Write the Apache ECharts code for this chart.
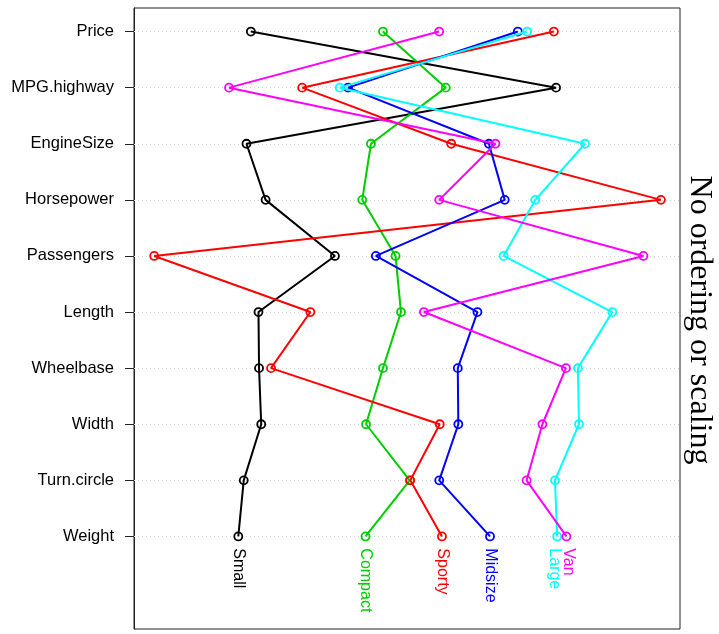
<!DOCTYPE html>
<html>
<head>
<meta charset="utf-8">
<script src="https://cdn.jsdelivr.net/npm/echarts@6/dist/echarts.min.js"></script>
<style>
  html, body { margin: 0; padding: 0; background: #fff; }
  #chart { width: 719px; height: 634px; }
</style>
</head>
<body>
<div id="chart"></div>
<script>
// Variables, top to bottom
const variables = ['Price', 'MPG.highway', 'EngineSize', 'Horsepower', 'Passengers',
                   'Length', 'Wheelbase', 'Width', 'Turn.circle', 'Weight'];
// Car types and their colours
const carTypes = ['Small', 'Compact', 'Sporty', 'Midsize', 'Large', 'Van'];
const typeColors = ['#000000', '#00cd00', '#ff0000', '#0000ff', '#00ffff', '#ff00ff'];

// Unscaled group profiles, one value per variable (same order as `variables`)
const small   = [21.4, 77.3, 20.6, 24.1, 36.8, 22.8, 22.9, 23.3, 20.1, 19.1];
const compact = [45.6, 57.1, 43.4, 41.8, 47.9, 48.9, 45.6, 42.5, 50.5, 42.4];
const sporty  = [76.9, 30.8, 58.1, 96.5,  3.7, 32.3, 25.1, 56.0, 50.6, 56.4];
const midsize = [70.3, 39.2, 65.0, 67.9, 44.3, 62.9, 59.3, 59.4, 55.9, 65.2];
const large   = [72.0, 37.7, 82.6, 73.5, 67.7, 87.6, 81.3, 81.5, 77.1, 77.5];
const van     = [55.9, 17.4, 66.2, 55.9, 93.3, 53.1, 79.1, 74.8, 71.9, 79.2];

const profiles = [small, compact, sporty, midsize, large, van];
const sideTitle = 'No ordering or scaling';

const rowIndex = variables.map((v, i) => i + 1);
const lastRow = variables.length;
const LABEL_GAP = 14; // minimum spacing (px) between the rotated type names

function buildSeries(labelShift) {
  const profileSeries = carTypes.map((name, k) => {
    const color = typeColors[k];
    const values = profiles[k];
    return {
      name: name,
      type: 'line',
      z: 2 + k,
      symbol: 'circle',
      symbolSize: 8,
      itemStyle: { color: 'rgba(0,0,0,0)', borderColor: color, borderWidth: 1.8 },
      lineStyle: { color: color, width: 2 },
      data: values.map((v, i) => {
        const item = { value: [v, i + 1] };
        if (i === values.length - 1) {
          item.label = {
            show: true,
            formatter: name,
            position: 'bottom',
            distance: 7,
            // offset is in the label's rotated frame: -y moves it right on screen
            offset: [0, -(labelShift[k] || 0)],
            rotate: -90,
            align: 'left',
            verticalAlign: 'middle',
            color: color,
            fontFamily: '"Liberation Sans", Arial, sans-serif',
            fontSize: 16
          };
        }
        return item;
      })
    };
  });

  // Faint dotted guide line at every variable row
  const guideSeries = {
    type: 'line',
    z: 1,
    data: [],
    markLine: {
      silent: true,
      z: 1,
      symbol: 'none',
      label: { show: false },
      lineStyle: { type: [1, 3], color: '#d4d4d4', width: 1 },
      data: rowIndex.map(r => ({ yAxis: r }))
    }
  };
  return [guideSeries].concat(profileSeries);
}

const chart = echarts.init(document.getElementById('chart'), null, { renderer: 'canvas' });
chart.setOption({
  animation: false,
  backgroundColor: '#ffffff',
  grid: {
    left: 134, right: 39, top: 8, bottom: 5,
    show: true, borderColor: '#222222', borderWidth: 1, backgroundColor: 'transparent'
  },
  xAxis: { type: 'value', min: 0, max: 100, show: false },
  yAxis: {
    type: 'value',
    inverse: true,
    min: 0.58, max: 11.65,
    axisLine: { show: true, lineStyle: { color: '#222222', width: 1 } },
    axisTick: { show: true, length: 9, customValues: rowIndex, lineStyle: { color: '#222222' } },
    axisLabel: {
      show: true,
      customValues: rowIndex,
      margin: 20,
      color: '#000000',
      fontFamily: '"Liberation Sans", Arial, sans-serif',
      fontSize: 16.5,
      formatter: v => variables[Math.round(v) - 1] || ''
    },
    splitLine: { show: false }
  },
  graphic: [{
    type: 'text',
    x: 699,
    y: 320,
    rotation: -Math.PI / 2,
    style: {
      text: sideTitle,
      font: '32px "Liberation Serif", "Times New Roman", serif',
      fill: '#000000',
      align: 'center',
      verticalAlign: 'middle'
    }
  }],
  series: buildSeries([])
});

// Spread the end-of-line type names apart where they would collide
const ends = carTypes.map((name, k) => ({
  k: k,
  px: chart.convertToPixel({ gridIndex: 0 }, [profiles[k][lastRow - 1], lastRow])[0]
})).sort((a, b) => a.px - b.px);
const shift = [];
ends.forEach(e => { shift[e.k] = 0; });
for (let i = 1; i < ends.length; i++) {
  const a = ends[i - 1], b = ends[i];
  const gap = (b.px + shift[b.k]) - (a.px + shift[a.k]);
  if (gap < LABEL_GAP) {
    const d = (LABEL_GAP - gap) / 2;
    shift[a.k] -= d;
    shift[b.k] += d;
  }
}
chart.setOption({ series: buildSeries(shift) });
</script>
</body>
</html>
